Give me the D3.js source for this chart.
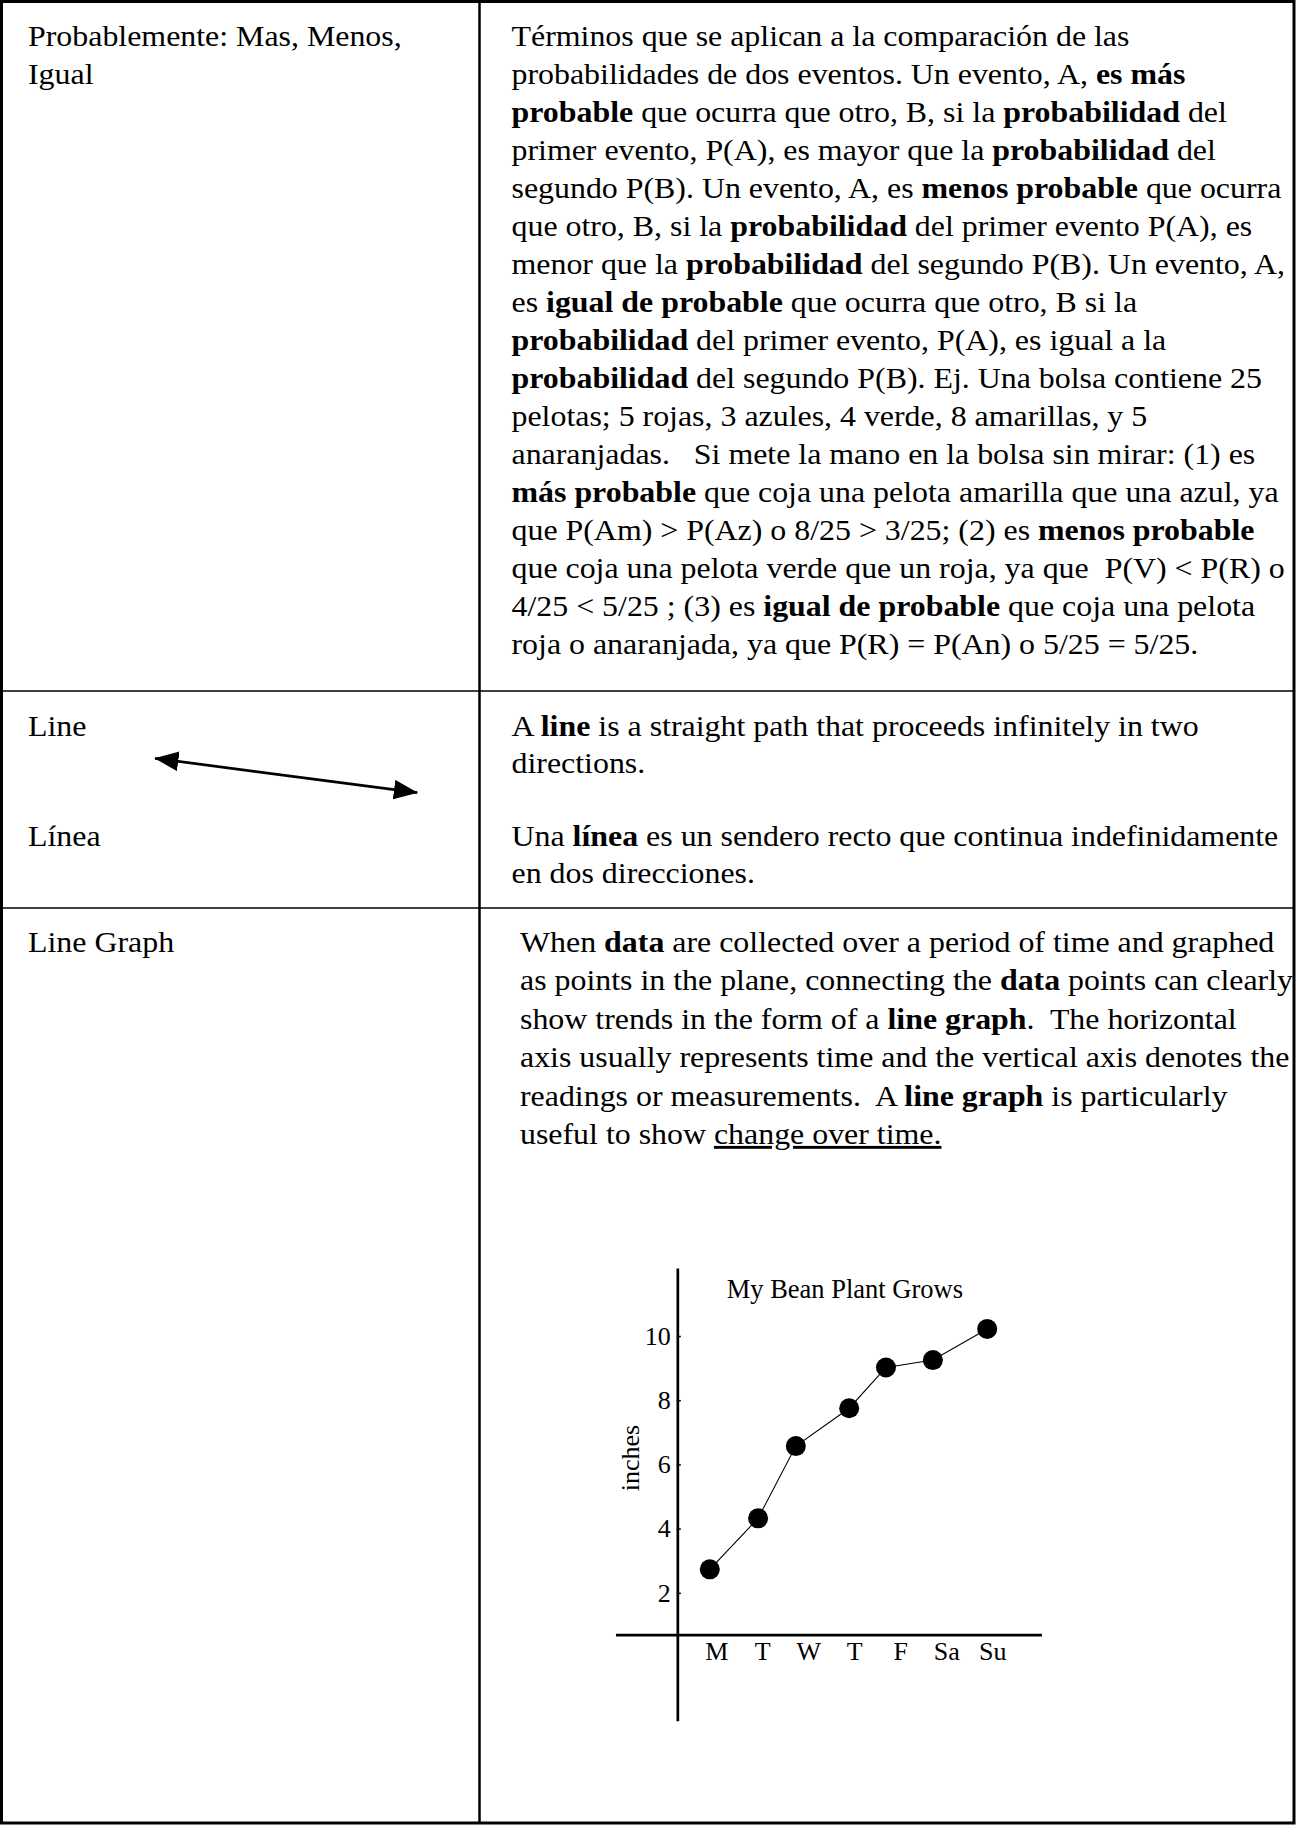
<!DOCTYPE html>
<html>
<head>
<meta charset="utf-8">
<script src="https://cdn.jsdelivr.net/npm/d3@7"></script>
<style>
  body { margin: 0; background: #fff; }
  svg text { font-family: "Liberation Serif", "Times New Roman", serif; fill: #000; }
</style>
</head>
<body>
<script>
// chart values
var days = ["M", "T", "W", "T", "F", "Sa", "Su"];
var heights = [2.73, 4.32, 6.57, 7.75, 9.02, 9.25, 10.22];
// the dots are hand placed a little left of their day labels (day units)
var dotDay = [-0.15, 0.9, 1.72, 2.88, 3.68, 4.7, 5.88];
var yTicks = [2, 4, 6, 8, 10];
var chartTitle = "My Bean Plant Grows";
var yLabel = "inches";

// table text, **bold** and __underline__
var termLeft = [
  ["Probablemente: Mas, Menos,", "Igual"],
  ["Line", "", "", "Línea"],
  ["Line Graph"]
];
var termRight = [
  [
    "Términos que se aplican a la comparación de las",
    "probabilidades de dos eventos. Un evento, A, **es más**",
    "**probable** que ocurra que otro, B, si la **probabilidad** del",
    "primer evento, P(A), es mayor que la **probabilidad** del",
    "segundo P(B). Un evento, A, es **menos probable** que ocurra",
    "que otro, B, si la **probabilidad** del primer evento P(A), es",
    "menor que la **probabilidad** del segundo P(B). Un evento, A,",
    "es **igual de probable** que ocurra que otro, B si la",
    "**probabilidad** del primer evento, P(A), es igual a la",
    "**probabilidad** del segundo P(B). Ej. Una bolsa contiene 25",
    "pelotas; 5 rojas, 3 azules, 4 verde, 8 amarillas, y 5",
    "anaranjadas.   Si mete la mano en la bolsa sin mirar: (1) es",
    "**más probable** que coja una pelota amarilla que una azul, ya",
    "que P(Am) > P(Az) o 8/25 > 3/25; (2) es **menos probable**",
    "que coja una pelota verde que un roja, ya que  P(V) < P(R) o",
    "4/25 < 5/25 ; (3) es **igual de probable** que coja una pelota",
    "roja o anaranjada, ya que P(R) = P(An) o 5/25 = 5/25."
  ],
  [
    "A **line** is a straight path that proceeds infinitely in two",
    "directions.",
    "",
    "Una **línea** es un sendero recto que continua indefinidamente",
    "en dos direcciones."
  ],
  [
    "When **data** are collected over a period of time and graphed",
    "as points in the plane, connecting the **data** points can clearly",
    "show trends in the form of a **line graph**.  The horizontal",
    "axis usually represents time and the vertical axis denotes the",
    "readings or measurements.  A **line graph** is particularly",
    "useful to show __change over time.__"
  ]
];

// page layout
var W = 1296, H = 1825;
var colX = 479.5, rowLines = [691, 908];
var firstBase = [45.5, 736, 951.5], lineGap = [38, 36.7, 38.5];
var leftX = 28, rightX = [511.5, 511.5, 520];

var svg = d3.select("body").append("svg")
    .attr("width", W)
    .attr("height", H);

// outer frame, column divider and row lines
svg.append("rect")
    .attr("x", 1.5).attr("y", 1.5)
    .attr("width", 1292.5).attr("height", 1821.5)
    .attr("fill", "none").attr("stroke", "#000").attr("stroke-width", 3);

svg.append("line")
    .attr("x1", colX).attr("x2", colX).attr("y1", 0).attr("y2", 1824)
    .attr("stroke", "#000").attr("stroke-width", 2.5);

svg.selectAll(".rowline")
  .data(rowLines)
  .enter().append("line")
    .attr("x1", 0).attr("x2", 1295)
    .attr("y1", function(d) { return d; })
    .attr("y2", function(d) { return d; })
    .attr("stroke", "#000").attr("stroke-width", 1.5);

// one line of body text, split into plain / bold / underlined pieces
function writeLine(x, y, str) {
  var t = svg.append("text")
      .attr("transform", "translate(" + x + "," + y + ") scale(1.1,1)")
      .style("font-size", "29px")
      .style("white-space", "pre");
  str.split(/(\*\*[^*]+\*\*|__[^_]+__)/).forEach(function(s) {
    if (!s) return;
    var ts = t.append("tspan");
    if (s.indexOf("**") == 0) {
      ts.text(s.slice(2, -2)).style("font-weight", "bold");
    } else if (s.indexOf("__") == 0) {
      ts.text(s.slice(2, -2)).style("text-decoration", "underline");
    } else {
      ts.text(s);
    }
  });
}

termLeft.forEach(function(lines, r) {
  lines.forEach(function(l, i) {
    if (l) writeLine(leftX, firstBase[r] + i * lineGap[r], l);
  });
});
termRight.forEach(function(lines, r) {
  lines.forEach(function(l, i) {
    if (l) writeLine(rightX[r], firstBase[r] + i * lineGap[r], l);
  });
});

// the two-headed arrow next to "Line"
var defs = svg.append("defs");
defs.append("marker")
    .attr("id", "head")
    .attr("markerUnits", "userSpaceOnUse")
    .attr("markerWidth", 24).attr("markerHeight", 20)
    .attr("viewBox", "0 0 22 18")
    .attr("refX", 21.5).attr("refY", 9)
    .attr("orient", "auto-start-reverse")
  .append("path")
    .attr("d", "M0,0 L22,9 L0,18 Z")
    .attr("fill", "#000");

svg.append("line")
    .attr("x1", 155).attr("y1", 758.3)
    .attr("x2", 417.3).attr("y2", 792.7)
    .attr("stroke", "#000").attr("stroke-width", 2.7)
    .attr("marker-start", "url(#head)")
    .attr("marker-end", "url(#head)");

// ---- line graph ----
var x = d3.scaleLinear().domain([0, 6]).range([716.7, 992.7]);
var y = d3.scaleLinear().domain([0, 10]).range([1657, 1336]);

// where the hand drawn axes sit, in data units
var yAxisAt = -0.845, xAxisAt = 0.68;
var xAxisFrom = -2.19, xAxisTo = 7.07, yAxisFrom = -2, yAxisTo = 12.1;

var chart = svg.append("g");

chart.append("line")
    .attr("x1", x(xAxisFrom)).attr("x2", x(xAxisTo))
    .attr("y1", y(xAxisAt)).attr("y2", y(xAxisAt))
    .attr("stroke", "#000").attr("stroke-width", 2.7);

chart.append("line")
    .attr("x1", x(yAxisAt)).attr("x2", x(yAxisAt))
    .attr("y1", y(yAxisFrom)).attr("y2", y(yAxisTo))
    .attr("stroke", "#000").attr("stroke-width", 2.7);

// y ticks, small marks to the right of the axis
var yAxisG = chart.append("g")
    .attr("transform", "translate(" + (x(yAxisAt) - 1) + ",0)")
    .call(d3.axisLeft(y)
        .tickValues(yTicks)
        .tickSize(-4)
        .tickPadding(6)
        .tickFormat(d3.format("d")));
yAxisG.select(".domain").remove();
yAxisG.attr("font-family", null).attr("font-size", null);
yAxisG.selectAll("line").attr("stroke-width", 1.5);
yAxisG.selectAll("text").style("font-size", "26px");

// day labels
chart.selectAll(".day")
  .data(days)
  .enter().append("text")
    .attr("x", function(d, i) { return x(i); })
    .attr("y", 1660)
    .attr("text-anchor", "middle")
    .style("font-size", "26px")
    .text(function(d) { return d; });

chart.append("text")
    .attr("transform", "translate(639,1458) rotate(-90)")
    .attr("text-anchor", "middle")
    .style("font-size", "26px")
    .text(yLabel);

chart.append("text")
    .attr("x", 726.7)
    .attr("y", 1297.7)
    .style("font-size", "26.5px")
    .text(chartTitle);

var pts = heights.map(function(h, i) { return [dotDay[i], h]; });

var line = d3.line()
    .x(function(d) { return x(d[0]); })
    .y(function(d) { return y(d[1]); });

chart.append("path")
    .datum(pts)
    .attr("d", line)
    .attr("fill", "none")
    .attr("stroke", "#000")
    .attr("stroke-width", 1.1);

chart.selectAll(".dot")
  .data(pts)
  .enter().append("circle")
    .attr("cx", function(d) { return x(d[0]); })
    .attr("cy", function(d) { return y(d[1]); })
    .attr("r", 10)
    .attr("fill", "#000");
</script>
</body>
</html>
